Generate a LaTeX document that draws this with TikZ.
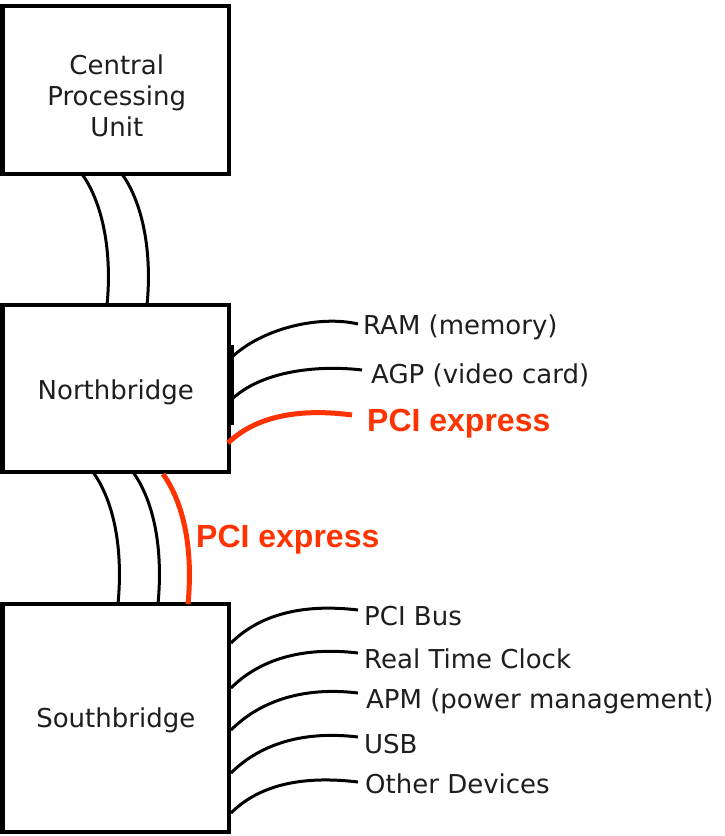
\documentclass[tikz,border=0pt]{standalone}
\usepackage{fontspec}
\setmainfont{DejaVu Sans}
\newfontfamily\redfont{Liberation Sans}
\usetikzlibrary{calc}
\definecolor{pcired}{HTML}{FF3300}
\definecolor{txt}{HTML}{1E1E1E}
\begin{document}
\begin{tikzpicture}[x=1pt,y=-1pt,
  box/.style={draw=black, line width=4.5pt, minimum width=226.5pt, outer sep=0pt, inner sep=0pt},
  boxtext/.style={inner sep=0pt, font=\fontsize{26}{31}\selectfont, align=center, text=txt},
  lbl/.style={anchor=base west, inner sep=0pt, font=\fontsize{26}{31}\selectfont, text=txt},
  redlbl/.style={anchor=base west, inner sep=0pt, font=\redfont\bfseries\fontsize{32}{38}\selectfont, text=pcired},
  wire/.style={draw=black, line width=3pt},
  redwire/.style={draw=pcired, line width=5pt}
]
\useasboundingbox (0,0) rectangle (724,836);
\fill[white] (0,0) rectangle (724,836);

% boxes
\node[box, minimum height=168pt] (cpu) at (115.75,90) {};
\node[box, minimum height=167pt] (nb) at (115.75,388.5) {};
\node[box, minimum height=228pt] (sb) at (115.75,718) {};
\node[boxtext] (cput) at ($(cpu.center)+(1,6)$) {Central\\Processing\\Unit};
\node[boxtext] (nbt) at ($(nb.center)+(0,4)$) {Northbridge};
\node[boxtext] (sbt) at ($(sb.center)+(0,2)$) {Southbridge};

% labels
\node[lbl] (ram) at (363,334) {RAM (memory)};
\node[lbl] (agp) at (371,383) {AGP (video card)};
\node[redlbl] (pcie1) at (367,431) {PCI express};
\node[redlbl] (pcie2) at (196,547) {PCI express};
\node[lbl] (pci) at (364,625) {PCI Bus};
\node[lbl] (rtc) at (364,668) {Real Time Clock};
\node[lbl] (apm) at (366,708) {APM (power management)};
\node[lbl] (usb) at (364,753) {USB};
\node[lbl] (oth) at (365,793) {Other Devices};

% CPU - Northbridge
\draw[wire] ($(cpu.south west)+(79.5,0)$) .. controls (104,205) and (112,255) .. ($(nb.north west)+(104.5,0)$);
\draw[wire] ($(cpu.south west)+(119.5,0)$) .. controls (144,205) and (152,255) .. ($(nb.north west)+(144.5,0)$);

% Northbridge - Southbridge
\draw[wire] ($(nb.south west)+(90.5,0)$) .. controls (115,503) and (123,551) .. ($(sb.north west)+(115.5,0)$);
\draw[wire] ($(nb.south west)+(130.5,0)$) .. controls (155,503) and (163,551) .. ($(sb.north west)+(155.5,0)$);
\draw[redwire] ($(nb.south west)+(160.5,2)$) .. controls (185,505) and (193,552) .. ($(sb.north west)+(185.5,0)$);

% Northbridge right side
\draw[line width=4pt] ($(nb.north east)+(2.5,40)$) -- ($(nb.north east)+(2.5,120)$);
\draw[wire] ($(nb.north east)+(2,53)$) .. controls +(31,-30) and +(-38,-9) .. ($(ram.base west)+(-5,-10)$);
\draw[wire] ($(nb.north east)+(2,95)$) .. controls +(31,-30) and +(-42,-5) .. ($(agp.base west)+(-9,-13)$);
\draw[redwire] ($(nb.north east)+(-1,138)$) .. controls +(31,-30) and +(-45,-6) .. ($(pcie1.base west)+(-15,-16)$);

% Southbridge right side
\draw[wire] ($(sb.north east)+(2,39)$) .. controls +(27,-27) and +(-58,-7) .. ($(pci.base west)+(-6,-15)$);
\draw[wire] ($(sb.north east)+(2,84)$) .. controls +(27,-27) and +(-58,-7) .. ($(rtc.base west)+(-6,-15)$);
\draw[wire] ($(sb.north east)+(2,126)$) .. controls +(27,-27) and +(-58,-7) .. ($(apm.base west)+(-8,-15)$);
\draw[wire] ($(sb.north east)+(2,169)$) .. controls +(27,-27) and +(-58,-7) .. ($(usb.base west)+(-6,-16)$);
\draw[wire] ($(sb.north east)+(2,209)$) .. controls +(27,-27) and +(-58,-7) .. ($(oth.base west)+(-7,-11)$);
\end{tikzpicture}
\end{document}
